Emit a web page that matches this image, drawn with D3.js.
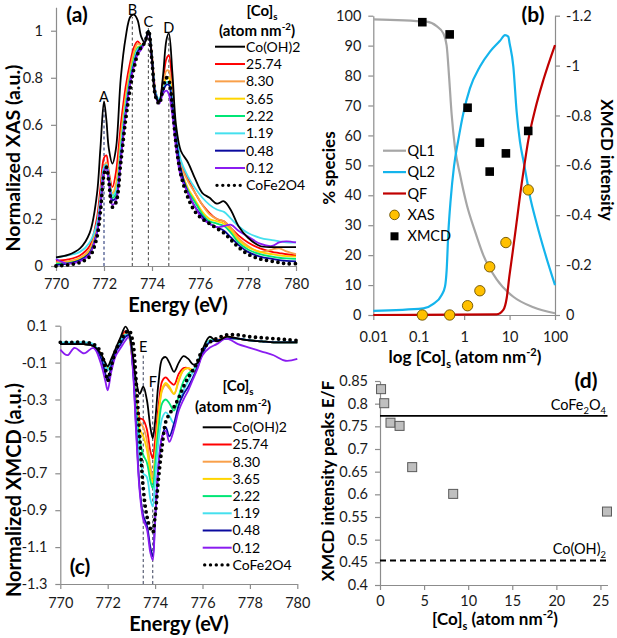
<!DOCTYPE html>
<html><head><meta charset="utf-8">
<script src="https://cdn.jsdelivr.net/npm/d3@7"></script>
<style>
body{margin:0;background:#fff;}
svg{display:block;font-family:Lato,"Open Sans",sans-serif;}
</style></head><body>
<svg id="chart" width="617" height="638"></svg>
<script>
// ---------------- DATA ----------------
const seriesNames = ["Co(OH)2","25.74","8.30","3.65","2.22","1.19","0.48","0.12","CoFe2O4"];

// (a) XAS spectra
const energyXAS = [770,770.5,771,771.4,771.7,771.85,772.0,772.1,772.2,772.35,772.5,772.7,772.9,773.1,773.25,773.4,773.55,773.7,773.85,774.0,774.15,774.3,774.45,774.6,774.7,774.85,775.0,775.2,775.5,775.8,776.1,776.4,776.7,777.0,777.3,777.6,778.0,778.5,779.0,779.3,779.6,780];
const xasCoOH2 = [0.037,0.047,0.075,0.14,0.3,0.5,0.70,0.62,0.50,0.435,0.50,0.80,0.97,1.06,1.068,1.045,0.975,0.95,1.0,0.88,0.72,0.70,0.80,0.96,0.99,0.82,0.60,0.49,0.44,0.37,0.31,0.29,0.265,0.275,0.235,0.17,0.12,0.085,0.08,0.08,0.08,0.08];
const xas2574 = [0.022,0.028,0.045,0.085,0.2,0.33,0.46,0.47,0.40,0.335,0.40,0.60,0.76,0.87,0.93,0.955,0.94,0.95,1.0,0.89,0.74,0.70,0.78,0.88,0.895,0.76,0.56,0.44,0.37,0.31,0.26,0.225,0.2,0.19,0.16,0.13,0.1,0.075,0.06,0.055,0.05,0.045];
const xas830 = [0.015,0.02,0.035,0.07,0.17,0.29,0.42,0.44,0.39,0.31,0.35,0.55,0.72,0.84,0.91,0.945,0.94,0.95,1.0,0.89,0.74,0.70,0.76,0.83,0.83,0.72,0.56,0.43,0.36,0.31,0.26,0.22,0.2,0.19,0.16,0.12,0.085,0.06,0.07,0.075,0.062,0.05];
const xas365 = [0.01,0.015,0.03,0.06,0.15,0.27,0.41,0.43,0.38,0.30,0.33,0.52,0.70,0.82,0.89,0.93,0.935,0.95,1.0,0.88,0.73,0.70,0.75,0.80,0.80,0.70,0.55,0.41,0.33,0.28,0.23,0.2,0.19,0.18,0.15,0.11,0.08,0.06,0.05,0.045,0.042,0.04];
const xas222 = [0.01,0.012,0.025,0.055,0.14,0.26,0.41,0.43,0.37,0.29,0.31,0.50,0.68,0.81,0.88,0.925,0.935,0.95,1.0,0.88,0.73,0.70,0.74,0.78,0.78,0.69,0.54,0.40,0.32,0.27,0.22,0.19,0.18,0.17,0.14,0.1,0.07,0.05,0.04,0.035,0.032,0.03];
const xas119 = [0.035,0.045,0.06,0.1,0.18,0.29,0.42,0.43,0.38,0.30,0.32,0.5,0.68,0.8,0.87,0.92,0.93,0.95,1.0,0.88,0.74,0.71,0.75,0.78,0.78,0.70,0.57,0.45,0.38,0.33,0.29,0.26,0.24,0.23,0.2,0.17,0.14,0.12,0.11,0.105,0.1,0.1];
const xas048 = [0.005,0.01,0.025,0.055,0.14,0.25,0.40,0.42,0.37,0.28,0.29,0.46,0.65,0.79,0.86,0.91,0.93,0.95,1.0,0.88,0.73,0.70,0.74,0.77,0.77,0.68,0.54,0.41,0.31,0.25,0.21,0.18,0.165,0.15,0.12,0.09,0.06,0.04,0.03,0.025,0.022,0.02];
const xas012 = [0.03,0.01,0.02,0.05,0.14,0.25,0.40,0.42,0.36,0.26,0.28,0.45,0.64,0.78,0.85,0.9,0.92,0.95,0.99,0.87,0.72,0.69,0.73,0.745,0.73,0.64,0.5,0.38,0.31,0.25,0.2,0.18,0.165,0.17,0.175,0.15,0.125,0.095,0.085,0.1,0.105,0.1];
const xasCoFe2O4 = [0.0,0.005,0.015,0.04,0.12,0.23,0.39,0.42,0.36,0.25,0.27,0.44,0.62,0.76,0.84,0.9,0.93,0.95,1.0,0.87,0.72,0.69,0.75,0.8,0.79,0.68,0.52,0.39,0.29,0.23,0.2,0.18,0.16,0.14,0.11,0.08,0.05,0.03,0.02,0.015,0.01,0.01];
const xasTicksY = [0,0.2,0.4,0.6,0.8,1];
const energyTicks = [770,772,774,776,778,780];
const xasPeakLabels = ["A","B","C","D"];
const xasPeakEnergy = [772.0,773.18,773.85,774.7];
const xasPeakTop = [0.68,1.058,1.01,0.98];

// (b) species vs loading
const ql1X = [0.01,0.149,0.248,0.348,0.412,0.464,0.531,0.628,0.809,1.135,1.73,2.64,5.2,12.1,33.4,100];
const ql1Y = [98.8,98.0,96.5,94.1,90.0,80.0,67.0,56.0,47.0,37.0,28.0,20.0,11.9,6.1,2.6,0.6];
const ql2X = [0.01,0.126,0.21,0.32,0.379,0.412,0.448,0.504,0.597,0.744,0.96,1.34,2.23,3.71,6.15,7.93,9.38,10.0,12.1,14.3,16.9,20.7,28.2,39.5,60.2,100];
const ql2Y = [1.4,2.2,3.7,6.7,9.5,15.0,27.3,38.4,49.6,58.5,67.4,75.7,83.0,88.0,91.6,93.5,93.0,90.8,83,68,58,50.7,39.5,30.6,20.7,10.0];
const qfX = [0.01,5.2,7.28,8.63,9.87,11.7,14.3,18.5,20.7,25.9,36.3,55.4,100];
const qfY = [0,0.2,1.7,5.6,12.8,21,31,44,49,58.5,68.5,78.5,90.2];
const coLoading = [0.12,0.48,1.19,2.22,3.65,8.30,25.74];
const xasPercent = [0,0,3.1,8.1,16.1,24.2,41.8];
const xmcdIntensity = [-1.174,-1.125,-0.831,-0.691,-0.575,-0.648,-0.738];
const speciesTicks = [0,10,20,30,40,50,60,70,80,90,100];
const xmcdTicks = [0,-0.2,-0.4,-0.6,-0.8,-1,-1.2];
const logTicks = [0.01,0.1,1,10,100];
const legendB = ["QL1","QL2","QF","XAS","XMCD"];

// (c) XMCD spectra
const energyXMCD = [770,770.3,770.6,771,771.4,771.7,771.9,772.0,772.15,772.35,772.55,772.75,772.9,773.05,773.2,773.35,773.5,773.65,773.8,773.9,774.0,774.15,774.3,774.45,774.6,774.8,775.0,775.2,775.4,775.6,775.8,776.0,776.3,776.6,777.0,777.5,778.0,778.5,779.0,779.5,780];
const xmcdCoOH2 = [0.0,0.0,0.0,0.0,-0.01,-0.05,-0.1,-0.12,-0.08,-0.02,0.04,0.095,0.06,-0.05,-0.2,-0.27,-0.23,-0.3,-0.45,-0.51,-0.42,-0.2,-0.08,-0.07,-0.1,-0.15,-0.1,-0.065,-0.08,-0.11,-0.1,-0.03,0.04,0.015,0.04,0.03,0.02,0.015,0.01,0.01,0.01];
const xmcd2574 = [0.0,0.0,0.0,0.0,-0.01,-0.05,-0.11,-0.13,-0.09,-0.03,0.03,0.07,0.04,-0.1,-0.3,-0.4,-0.41,-0.46,-0.58,-0.62,-0.52,-0.33,-0.2,-0.18,-0.2,-0.22,-0.16,-0.13,-0.13,-0.15,-0.12,-0.04,0.02,0.02,0.04,0.03,0.02,0.015,0.01,0.01,0.01];
const xmcd830 = [0.0,0.0,0.0,0.0,-0.01,-0.05,-0.11,-0.13,-0.09,-0.03,0.02,0.06,0.04,-0.1,-0.3,-0.42,-0.45,-0.52,-0.66,-0.72,-0.6,-0.38,-0.25,-0.22,-0.24,-0.27,-0.2,-0.14,-0.13,-0.14,-0.11,-0.04,0.02,0.02,0.04,0.03,0.02,0.015,0.01,0.01,0.01];
const xmcd365 = [0.0,0.0,0.0,0.0,-0.01,-0.05,-0.11,-0.13,-0.09,-0.03,0.02,0.05,0.04,-0.1,-0.32,-0.46,-0.5,-0.57,-0.7,-0.75,-0.62,-0.38,-0.24,-0.21,-0.23,-0.27,-0.19,-0.14,-0.13,-0.14,-0.11,-0.04,0.02,0.02,0.03,0.03,0.02,0.015,0.01,0.01,0.01];
const xmcd222 = [0.0,0.0,0.0,0.0,-0.01,-0.06,-0.12,-0.14,-0.1,-0.03,0.02,0.05,0.04,-0.1,-0.35,-0.52,-0.6,-0.64,-0.74,-0.78,-0.66,-0.45,-0.32,-0.3,-0.32,-0.36,-0.28,-0.2,-0.16,-0.14,-0.11,-0.04,0.02,0.02,0.03,0.03,0.02,0.015,0.01,0.01,0.01];
const xmcd119 = [0.01,0.01,0.01,0.01,0.0,-0.06,-0.12,-0.14,-0.1,-0.03,0.02,0.05,0.05,-0.1,-0.38,-0.6,-0.7,-0.72,-0.84,-0.88,-0.74,-0.52,-0.4,-0.37,-0.39,-0.43,-0.33,-0.25,-0.2,-0.15,-0.1,-0.03,0.02,0.02,0.03,0.03,0.02,0.015,0.01,0.01,0.01];
const xmcd048 = [0.0,0.0,0.0,0.0,-0.01,-0.07,-0.16,-0.2,-0.12,-0.04,0.0,0.04,0.05,-0.1,-0.45,-0.78,-0.93,-0.98,-1.1,-1.15,-0.95,-0.65,-0.5,-0.45,-0.5,-0.43,-0.33,-0.27,-0.23,-0.18,-0.12,-0.05,0.01,0.02,0.03,0.03,0.02,0.015,0.01,0.01,0.01];
const xmcd012 = [-0.03,-0.06,-0.02,-0.05,-0.02,-0.1,-0.2,-0.25,-0.15,-0.06,-0.02,0.02,0.04,-0.12,-0.48,-0.8,-0.95,-1.0,-1.13,-1.17,-0.95,-0.65,-0.5,-0.47,-0.53,-0.46,-0.36,-0.3,-0.25,-0.19,-0.13,-0.06,-0.02,0.0,0.03,0.0,-0.02,-0.04,-0.06,-0.09,-0.08];
const xmcdCoFe2O4 = [0.01,0.01,0.01,0.01,0.0,-0.04,-0.13,-0.2,-0.12,-0.03,0.02,0.06,0.075,0.02,-0.2,-0.5,-0.78,-0.93,-1.0,-1.02,-0.93,-0.72,-0.55,-0.42,-0.38,-0.34,-0.29,-0.23,-0.18,-0.14,-0.09,-0.03,0.01,0.03,0.05,0.05,0.04,0.035,0.03,0.025,0.02];
const xmcdTicksY = [0.1,-0.1,-0.3,-0.5,-0.7,-0.9,-1.1,-1.3];
const xmcdPeakLabels = ["E","F"];
const xmcdPeakEnergy = [773.5,773.9];
const xmcdPeakTop = [-0.05,-0.24];

// (d) E/F ratio
const ratioEF = [0.832,0.801,0.758,0.751,0.660,0.601,0.562];
const refCoFe2O4 = 0.773;
const refCoOH2 = 0.454;
const ratioTicksY = [0.4,0.45,0.5,0.55,0.6,0.65,0.7,0.75,0.8,0.85];
const loadTicks = [0,5,10,15,20,25];

// ---------------- DRAWING ----------------
const svg = d3.select("#chart");
const colors = ["#000000","#ff0000","#f9a04a","#ffd500","#00e676","#45e0ee","#0a0a9e","#8a1cf0","#000000"];
const FONT = 14.5;
const axisCol = "#8c8c8c";

function styleAxis(g){
  g.select(".domain").attr("stroke",axisCol).attr("stroke-width",1.2);
  g.selectAll(".tick line").attr("stroke",axisCol).attr("stroke-width",1.2);
  g.selectAll(".tick text").attr("fill","#1a1a1a").style("font-size",FONT+"px").style("font-family","Lato,'Open Sans',sans-serif");
}
function rich(sel, parts, size){
  let shift=0;
  parts.forEach(p=>{
    const ts = sel.append("tspan").text(p.t);
    const target = p.sub ? size*0.28 : (p.sup ? -size*0.4 : 0);
    if(target-shift!==0) ts.attr("dy", target-shift);
    shift = target;
    if(p.sub||p.sup) ts.style("font-size",(size*0.65)+"px");
  });
  return sel;
}
function label(x,y,parts,size,opts={}){
  const t = svg.append("text").attr("x",x).attr("y",y)
    .attr("text-anchor",opts.anchor||"middle")
    .attr("dy","0.35em")
    .style("font-size",size+"px")
    .style("font-weight",opts.bold?"700":"400")
    .attr("fill",opts.fill||"#000");
  if(opts.rotate) t.attr("transform",`rotate(${opts.rotate},${x},${y})`);
  rich(t, typeof parts==="string"?[{t:parts}]:parts, size);
  return t;
}
const fmt = d => String(d);
const coLabel = [{t:"[Co]"},{t:"s",sub:true},{t:" (atom nm"},{t:"-2",sup:true},{t:")"}];

// ===== Panel (a) =====
const xA = d3.scaleLinear([770,780],[56,296]);
const yA = d3.scaleLinear([0,1.1],[266,7.2]);
styleAxis(svg.append("g").attr("transform","translate(0,266)")
  .call(d3.axisBottom(xA).tickValues(energyTicks).tickFormat(fmt).tickSize(5).tickSizeOuter(0).tickPadding(8)));
styleAxis(svg.append("g").attr("transform","translate(56,0)")
  .call(d3.axisLeft(yA).tickValues(xasTicksY).tickFormat(fmt).tickSize(5).tickSizeOuter(0).tickPadding(8)));
xasPeakEnergy.forEach((e,i)=>{
  svg.append("line").attr("x1",xA(e)).attr("x2",xA(e)).attr("y1",yA(0)).attr("y2",yA(xasPeakTop[i]))
    .attr("stroke", i===0?"#2a3a7a":"#555").attr("stroke-width",1.1).attr("stroke-dasharray","3,2.5");
});
const xasSeries = [xasCoOH2,xas2574,xas830,xas365,xas222,xas119,xas048,xas012,xasCoFe2O4];
const lineA = d3.line().curve(d3.curveCatmullRom.alpha(0.5));
const drawOrderA = [1,2,3,4,5,6,7,0,8];
drawOrderA.forEach(si=>{
  const pts = energyXAS.map((e,i)=>[xA(e),yA(xasSeries[si][i])]);
  const p = svg.append("path").attr("d",lineA(pts)).attr("fill","none").attr("stroke",colors[si]);
  if(si===8) p.attr("stroke-width",3.8).attr("stroke-dasharray","0,5.8").attr("stroke-linecap","round");
  else p.attr("stroke-width",1.8);
});
xasPeakLabels.forEach((l,i)=>{
  const yy = [97,10,22,28][i];
  label(xA(xasPeakEnergy[i]), yy, l, FONT);
});
label(77,15,"(a)",21,{bold:true});
label(13.5,158,"Normalized XAS (a.u.)",19.5,{bold:true,rotate:-90});
label(178,305,"Energy (eV)",20,{bold:true});

function legendSpec(x0,x1,tx,ty0,dy,titleX,titleY1,titleY2){
  label(titleX,titleY1,[{t:"[Co]"},{t:"s",sub:true}],15,{bold:true});
  label(titleX-5,titleY2,[{t:"(atom nm"},{t:"-2",sup:true},{t:")"}],15,{bold:true});
  seriesNames.forEach((n,i)=>{
    const y = ty0+i*dy;
    const l = svg.append("line").attr("x1",x0).attr("x2",x1).attr("y1",y).attr("y2",y).attr("stroke",colors[i]);
    if(i===8) l.attr("stroke-width",3.4).attr("stroke-dasharray","0,5.8").attr("stroke-linecap","round").attr("x1",x0+2);
    else l.attr("stroke-width",2);
    label(tx,y,n,14,{anchor:"start"});
  });
}
legendSpec(215,245,246,46.7,17.33,262,11,31);

// ===== Panel (b) =====
const xB = d3.scaleLog([0.01,100],[373.3,555]);
const yBL = d3.scaleLinear([0,100],[315,15.7]);
const yBR = d3.scaleLinear([0,-1.2],[315,15.7]);
styleAxis(svg.append("g").attr("transform","translate(0,315)")
  .call(d3.axisBottom(xB).tickValues(logTicks).tickFormat(fmt).tickSize(5).tickSizeOuter(0).tickPadding(12)));
styleAxis(svg.append("g").attr("transform","translate(373.3,0)")
  .call(d3.axisLeft(yBL).tickValues(speciesTicks).tickFormat(fmt).tickSize(5).tickSizeOuter(0).tickPadding(7)));
styleAxis(svg.append("g").attr("transform","translate(555,0)")
  .call(d3.axisRight(yBR).tickValues(xmcdTicks).tickFormat(fmt).tickSize(5).tickSizeOuter(0).tickPadding(6)));
const lineB = d3.line().curve(d3.curveMonotoneX);
const bCurves = [[ql1X,ql1Y,"#a6a6a6"],[ql2X,ql2Y,"#14b4ec"],[qfX,qfY,"#c00000"]];
bCurves.forEach(([xs,ys,c])=>{
  svg.append("path").attr("d",lineB(xs.map((x,i)=>[xB(x),yBL(ys[i])])))
    .attr("fill","none").attr("stroke",c).attr("stroke-width",2.2);
});
coLoading.forEach((c,i)=>{
  svg.append("circle").attr("cx",xB(c)).attr("cy",yBL(xasPercent[i])).attr("r",5.2)
    .attr("fill","#ffc000").attr("stroke","#6b5000").attr("stroke-width",0.9);
});
coLoading.forEach((c,i)=>{
  svg.append("rect").attr("x",xB(c)-4.3).attr("y",yBR(xmcdIntensity[i])-4.3).attr("width",8.6).attr("height",8.6).attr("fill","#000");
});
legendB.forEach((n,i)=>{
  const y = 150.7+i*21.4;
  if(i<3){
    svg.append("line").attr("x1",383).attr("x2",406).attr("y1",y).attr("y2",y).attr("stroke",bCurves[i][2]).attr("stroke-width",2.2);
  } else if(i===3){
    svg.append("circle").attr("cx",394.5).attr("cy",y).attr("r",4.8).attr("fill","#ffc000").attr("stroke","#6b5000").attr("stroke-width",0.9);
  } else {
    svg.append("rect").attr("x",390.5).attr("y",y-4).attr("width",8).attr("height",8).attr("fill","#000");
  }
  label(407.5,y,n,FONT,{anchor:"start"});
});
label(533,15,"(b)",21,{bold:true});
label(329,168,"% species",17,{bold:true,rotate:-90});
label(607,160,"XMCD intensity",17,{bold:true,rotate:90});
label(465,357,[{t:"log "}].concat(coLabel),17,{bold:true});

// ===== Panel (c) =====
const xC = d3.scaleLinear([770,780],[60.3,297.3]);
const yC = d3.scaleLinear([-1.3,0.1],[584,325.7]);
styleAxis(svg.append("g").attr("transform","translate(0,584)")
  .call(d3.axisBottom(xC).tickValues(energyTicks).tickFormat(fmt).tickSize(5).tickSizeOuter(0).tickPadding(9)));
styleAxis(svg.append("g").attr("transform","translate(60.3,0)")
  .call(d3.axisLeft(yC).tickValues(xmcdTicksY).tickFormat(fmt).tickSize(5).tickSizeOuter(0).tickPadding(8)));
xmcdPeakEnergy.forEach((e,i)=>{
  svg.append("line").attr("x1",xC(e)).attr("x2",xC(e)).attr("y1",yC(-1.3)).attr("y2",yC(xmcdPeakTop[i]))
    .attr("stroke","#4a5068").attr("stroke-width",1.1).attr("stroke-dasharray","3,2.5");
});
const xmcdSeries = [xmcdCoOH2,xmcd2574,xmcd830,xmcd365,xmcd222,xmcd119,xmcd048,xmcd012,xmcdCoFe2O4];
drawOrderA.forEach(si=>{
  const pts = energyXMCD.map((e,i)=>[xC(e),yC(xmcdSeries[si][i])]);
  const p = svg.append("path").attr("d",lineA(pts)).attr("fill","none").attr("stroke",colors[si]);
  if(si===8) p.attr("stroke-width",3.8).attr("stroke-dasharray","0,5.8").attr("stroke-linecap","round");
  else p.attr("stroke-width",1.8);
});
label(xC(773.5),346.7,"E",FONT);
label(xC(773.9),381.7,"F",FONT);
label(80,567,"(c)",21,{bold:true});
label(13.5,490,"Normalized XMCD (a.u.)",20,{bold:true,rotate:-90});
label(179,624,"Energy (eV)",20,{bold:true});
legendSpec(202.7,231.7,232.5,427.3,17.2,238,386,407);

// ===== Panel (d) =====
const xD = d3.scaleLinear([0,25.8],[380,607.5]);
const yD = d3.scaleLinear([0.4,0.85],[585,381]);
styleAxis(svg.append("g").attr("transform","translate(0,585)")
  .call(d3.axisBottom(xD).tickValues(loadTicks).tickFormat(fmt).tickSize(5).tickSizeOuter(0).tickPadding(6)));
styleAxis(svg.append("g").attr("transform","translate(380,0)")
  .call(d3.axisLeft(yD).tickValues(ratioTicksY).tickFormat(fmt).tickSize(5).tickSizeOuter(0).tickPadding(7)));
svg.append("line").attr("x1",xD(0)).attr("x2",xD(25.8)).attr("y1",yD(refCoFe2O4)).attr("y2",yD(refCoFe2O4))
  .attr("stroke","#000").attr("stroke-width",1.8);
svg.append("line").attr("x1",xD(0)).attr("x2",xD(25.8)).attr("y1",yD(refCoOH2)).attr("y2",yD(refCoOH2))
  .attr("stroke","#000").attr("stroke-width",1.8).attr("stroke-dasharray","6,4");
coLoading.forEach((c,i)=>{
  svg.append("rect").attr("x",xD(c)-4.5).attr("y",yD(ratioEF[i])-4.5).attr("width",9).attr("height",9)
    .attr("fill","#bfbfbf").attr("stroke","#595959").attr("stroke-width",1);
});
label(606,405,[{t:"CoFe"},{t:"2",sub:true},{t:"O"},{t:"4",sub:true}],FONT,{anchor:"end"});
label(606,549,[{t:"Co(OH)"},{t:"2",sub:true}],FONT,{anchor:"end"});
label(586,381,"(d)",21,{bold:true});
label(328,481,"XMCD intensity peaks E/F",17,{bold:true,rotate:-90});
label(495,619,coLabel,17,{bold:true});
</script>
</body></html>
